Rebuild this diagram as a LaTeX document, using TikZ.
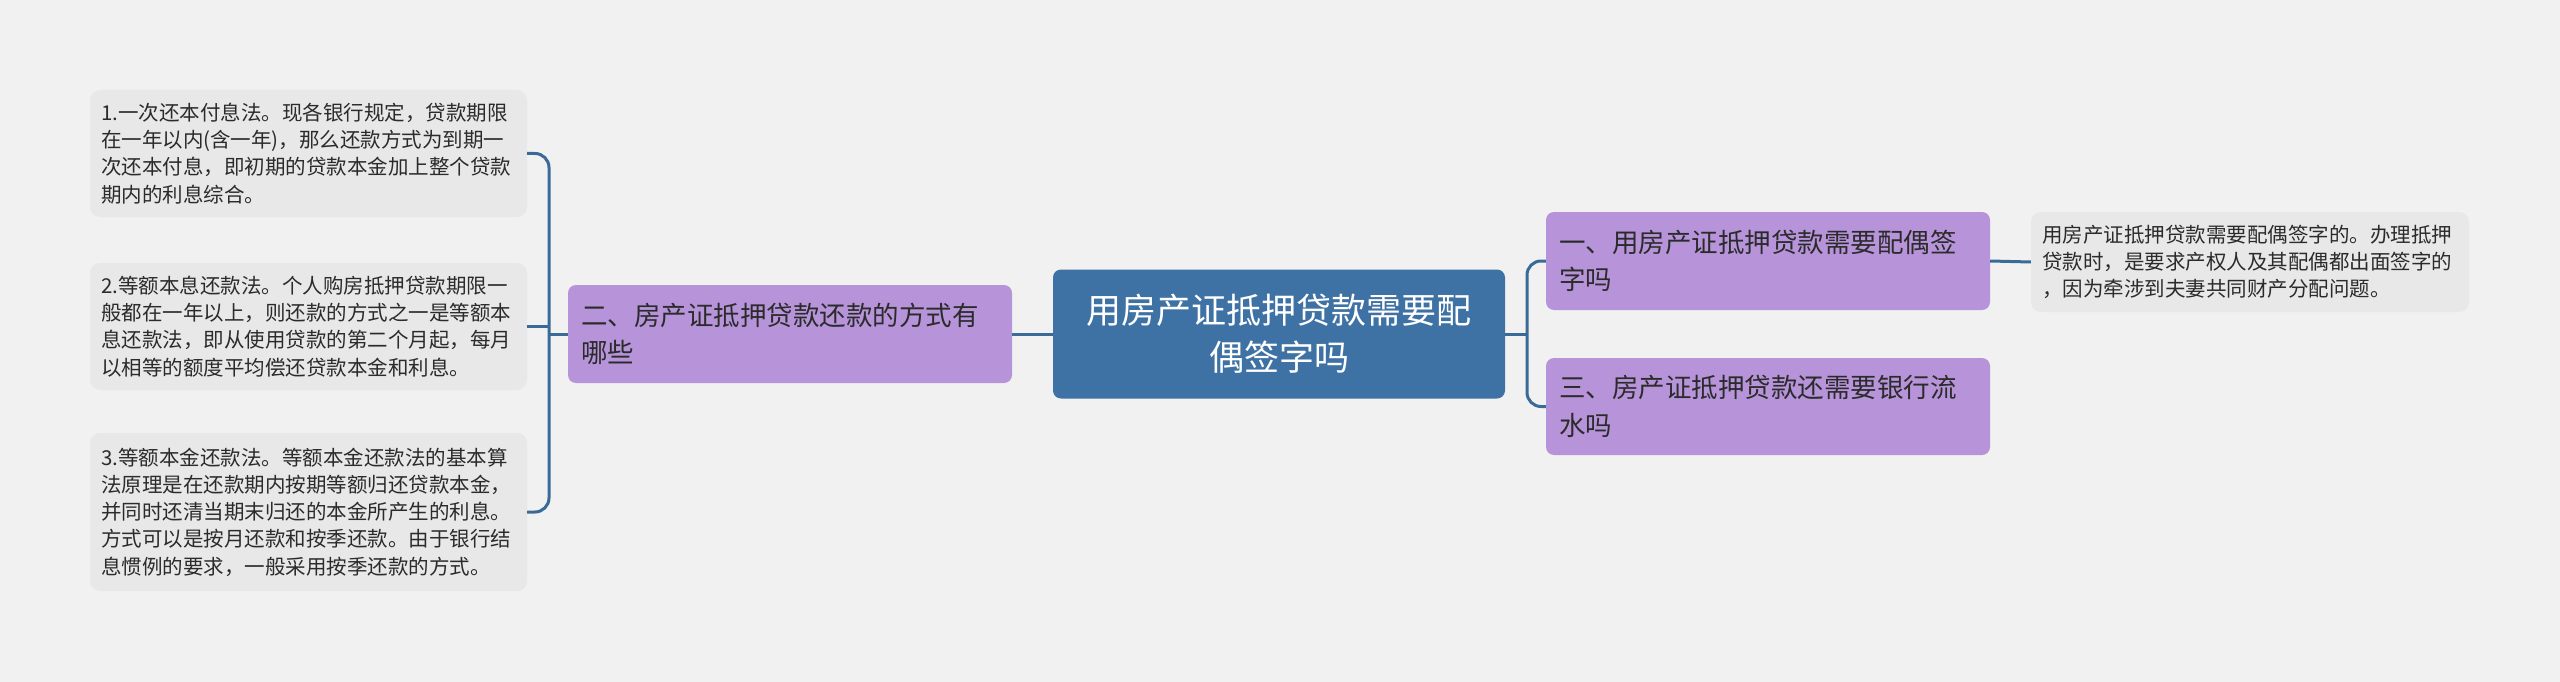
\documentclass[tikz,border=0pt]{standalone}
\usepackage{fontspec}
\setmainfont{Noto Sans CJK SC}
\definecolor{bg}{HTML}{F1F1F1}
\definecolor{centralfill}{HTML}{3F72A4}
\definecolor{purplefill}{HTML}{B794DA}
\definecolor{leaffill}{HTML}{E8E8E8}
\definecolor{linecol}{HTML}{3A6A98}
\definecolor{darktext}{HTML}{2B2B2B}
\tikzset{
  centralbox/.style={fill=centralfill, text=white, rounded corners=8pt, inner xsep=12pt, inner ysep=0pt,
    text width=428pt, minimum height=129pt, align=center,
    font=\fontsize{35}{47}\selectfont},
  topicbox/.style={fill=purplefill, text=darktext, rounded corners=8pt, inner xsep=13pt, inner ysep=0pt,
    text width=418pt, minimum height=98pt, align=left,
    font=\fontsize{26.5}{37.5}\selectfont},
  leafbox/.style={fill=leaffill, text=darktext, rounded corners=10pt, inner xsep=11pt, inner ysep=0pt,
    text width=415pt, align=left,
    font=\fontsize{20.5}{27.2}\selectfont},
  conn/.style={draw=linecol, line width=3pt}
}
\begin{document}
\begin{tikzpicture}[x=1pt,y=-1pt]
\fill[bg] (0,0) rectangle (2560,682);
\useasboundingbox (0,0) rectangle (2560,682);

\node[centralbox] (c) at (1279,334) {用房产证抵押贷款需要配\\偶签字吗};

\node[topicbox] (mid) at (790,334) {二、房产证抵押贷款还款的方式有\\哪些};

\node[topicbox] (r1) at (1768,261) {一、用房产证抵押贷款需要配偶签\\字吗};
\node[topicbox, minimum height=97pt] (r3) at (1768,406.5) {三、房产证抵押贷款还需要银行流\\水吗};

\node[leafbox, text width=416pt, minimum height=100pt] (rl) at (2250,262) {用房产证抵押贷款需要配偶签字的。办理抵押\\贷款时，是要求产权人及其配偶都出面签字的\\，因为牵涉到夫妻共同财产分配问题。};

\node[leafbox, minimum height=127pt] (l1) at (308.5,153.5) {1.一次还本付息法。现各银行规定，贷款期限\\在一年以内(含一年)，那么还款方式为到期一\\次还本付息，即初期的贷款本金加上整个贷款\\期内的利息综合。};
\node[leafbox, minimum height=127pt] (l2) at (308.5,326.5) {2.等额本息还款法。个人购房抵押贷款期限一\\般都在一年以上，则还款的方式之一是等额本\\息还款法，即从使用贷款的第二个月起，每月\\以相等的额度平均偿还贷款本金和利息。};
\node[leafbox, minimum height=158pt] (l3) at (308.5,512) {3.等额本金还款法。等额本金还款法的基本算\\法原理是在还款期内按期等额归还贷款本金，\\并同时还清当期末归还的本金所产生的利息。\\方式可以是按月还款和按季还款。由于银行结\\息惯例的要求，一般采用按季还款的方式。};

\coordinate (lb) at (549,334);
\coordinate (rb) at (1527,334);

% left side
\draw[conn] (c.west) -- (mid.east);
\draw[conn] (mid.west) -- (lb);
\draw[conn, rounded corners=14pt] (l1.east) -| (lb) |- (l3.east);
\draw[conn] (l2.east) -- (l2.east -| lb);

% right side
\draw[conn] (c.east) -- (rb);
\draw[conn, rounded corners=14pt] (r1.west) -| (rb) |- (r3.west);
\draw[conn] (r1.east) -- (rl.west);
\end{tikzpicture}
\end{document}
